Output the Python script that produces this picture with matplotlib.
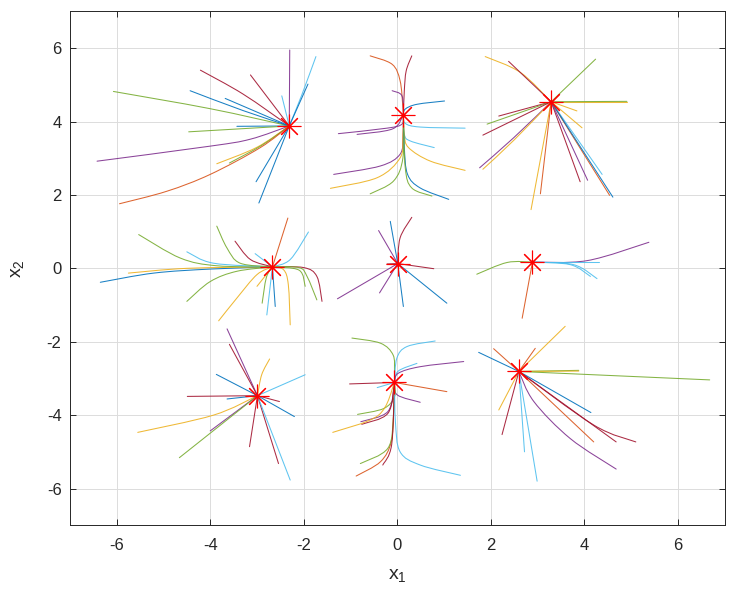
import matplotlib
matplotlib.use("Agg")
import matplotlib.pyplot as plt
from matplotlib.path import Path
from matplotlib.patches import PathPatch

plt.rcParams['font.family'] = ['Liberation Sans', 'DejaVu Sans']
plt.rcParams['mathtext.fontset'] = 'custom'
plt.rcParams['mathtext.rm'] = 'Liberation Sans'
plt.rcParams['mathtext.it'] = 'Liberation Sans'
plt.rcParams['axes.unicode_minus'] = False

# MATLAB default colour order
palette = {"B": "#0072BD", "O": "#D95319", "Y": "#EDB120", "P": "#7E2F8E",
           "G": "#77AC30", "C": "#4DBEEE", "R": "#A2142F"}

# Equilibrium points (red asterisks)
centers = [(-2.31, 3.88), (0.13, 4.18), (3.29, 4.54),
           (-2.67, 0.04), (0.01, 0.13), (2.89, 0.17),
           (-2.99, -3.47), (-0.06, -3.11), (2.60, -2.81)]

# Trajectories per equilibrium: (colour key, points from start toward the equilibrium)
traj1 = [("P", [(-2.30, 5.95)]), ("C", [(-1.74, 5.77), (-2.05, 4.70)]),
         ("B", [(-1.91, 5.02)]), ("C", [(-2.47, 4.70)]),
         ("R", [(-4.21, 5.40), (-3.30, 4.75)]), ("R", [(-3.14, 5.27)]),
         ("G", [(-6.07, 4.82), (-4.00, 4.35)]), ("B", [(-4.43, 4.84), (-3.30, 4.30)]),
         ("B", [(-3.68, 4.63)]), ("B", [(-3.43, 3.87)]), ("G", [(-4.46, 3.72)]),
         ("P", [(-6.42, 2.92), (-4.00, 3.33), (-3.14, 3.52)]),
         ("Y", [(-3.86, 2.85), (-3.00, 3.30)]), ("G", [(-3.59, 2.87), (-2.90, 3.35)]),
         ("O", [(-5.94, 1.76), (-4.93, 2.10), (-4.00, 2.56), (-2.93, 3.29)]),
         ("B", [(-3.02, 2.36)]), ("B", [(-2.96, 1.78)])]
traj2 = [("O", [(-0.58, 5.79), (-0.11, 5.56), (0.06, 5.11), (0.12, 4.38)]),
         ("R", [(0.31, 5.79), (0.19, 5.38), (0.15, 4.84)]),
         ("P", [(-0.11, 4.84), (0.10, 4.70)]),
         ("B", [(1.01, 4.56), (0.42, 4.47), (0.17, 4.34)]),
         ("C", [(1.45, 3.82), (0.49, 3.85), (0.17, 3.95)]),
         ("P", [(-1.26, 3.67), (-0.22, 3.82), (0.10, 3.93)]),
         ("P", [(-0.86, 3.65), (-0.10, 3.80)]),
         ("C", [(0.79, 3.29), (0.28, 3.47), (0.15, 3.65)]),
         ("Y", [(1.45, 2.67), (0.71, 2.92), (0.24, 3.29), (0.15, 3.65)]),
         ("P", [(-1.36, 2.56), (-0.36, 2.79), (0.06, 3.11), (0.12, 3.60)]),
         ("Y", [(-1.43, 2.18), (-0.43, 2.47), (0.06, 3.01), (0.12, 3.60)]),
         ("G", [(-0.58, 2.03), (-0.08, 2.38), (0.12, 3.01)]),
         ("B", [(1.10, 1.88), (0.49, 2.19), (0.22, 2.56), (0.15, 3.29)]),
         ("G", [(0.74, 1.97), (0.31, 2.19), (0.17, 2.74)])]
traj3 = [("Y", [(1.88, 5.77), (2.63, 5.34)]), ("R", [(2.38, 5.64)]),
         ("G", [(4.24, 5.70)]), ("Y", [(4.91, 4.54)]), ("G", [(4.91, 4.55)]),
         ("Y", [(3.84, 4.29)]), ("Y", [(3.95, 3.83)]), ("R", [(2.17, 4.15)]),
         ("G", [(1.92, 3.93)]), ("R", [(1.83, 3.63)]),
         ("P", [(1.76, 2.74), (2.49, 3.56)]), ("Y", [(1.83, 2.70), (2.50, 3.50)]),
         ("Y", [(2.86, 1.60)]), ("O", [(3.06, 2.03)]), ("R", [(3.91, 2.36)]),
         ("P", [(4.07, 2.40)]), ("C", [(4.38, 2.56)]), ("O", [(4.54, 1.99)]),
         ("B", [(4.61, 1.94)])]
traj4 = [("B", [(-6.35, -0.38), (-5.21, -0.13), (-4.00, -0.02)]),
         ("Y", [(-5.75, -0.13), (-4.50, 0.00)]),
         ("G", [(-5.53, 0.92), (-4.64, 0.28), (-3.86, 0.07)]),
         ("C", [(-4.50, 0.45), (-3.93, 0.14)]),
         ("G", [(-3.86, 1.15), (-3.64, 0.55), (-3.36, 0.14)]),
         ("R", [(-3.47, 0.74), (-3.14, 0.24)]), ("C", [(-3.04, 0.40)]),
         ("O", [(-2.34, 1.37)]), ("C", [(-1.90, 0.99), (-2.29, 0.24)]),
         ("R", [(-1.61, -0.90), (-1.72, -0.22), (-2.00, 0.02)]),
         ("G", [(-1.72, -0.86), (-1.93, -0.22), (-2.10, 0.02)]),
         ("G", [(-1.97, -0.49), (-2.10, -0.05)]),
         ("Y", [(-2.29, -1.54), (-2.33, -0.45), (-2.43, -0.04)]),
         ("B", [(-2.61, -1.04)]), ("C", [(-2.79, -1.27)]),
         ("G", [(-2.89, -0.95), (-2.80, -0.25)]),
         ("Y", [(-3.82, -1.43), (-3.43, -0.81), (-3.00, -0.17)]),
         ("G", [(-4.50, -0.90), (-4.00, -0.36), (-3.43, -0.08)]),
         ("Y", [(-3.00, -0.49)])]
traj5 = [("B", [(-0.15, 1.28)]), ("R", [(0.31, 1.39), (0.06, 0.83)]),
         ("P", [(-0.40, 1.03)]), ("R", [(0.78, -0.01)]), ("P", [(-1.28, -0.83)]),
         ("P", [(-0.38, -0.67)]), ("B", [(0.13, -1.04)]), ("B", [(1.06, -0.95)]),
         ("R", [(-0.22, 0.12)])]
traj6 = [("G", [(1.70, -0.16), (2.35, 0.16)]), ("P", [(5.38, 0.71), (4.06, 0.21)]),
         ("C", [(4.27, -0.28), (3.77, 0.10)]), ("C", [(4.13, -0.22), (3.70, 0.10)]),
         ("C", [(4.31, 0.17)]), ("O", [(2.67, -1.36)])]
traj7 = [("P", [(-3.64, -1.65)]), ("R", [(-3.59, -2.07)]),
         ("Y", [(-2.73, -2.47), (-2.90, -2.90)]), ("B", [(-3.87, -2.89)]),
         ("C", [(-1.97, -2.90)]), ("R", [(-4.49, -3.49)]), ("B", [(-3.64, -3.56)]),
         ("R", [(-2.52, -3.63)]), ("B", [(-2.20, -4.04)]),
         ("Y", [(-5.55, -4.47), (-3.93, -4.00)]), ("P", [(-4.00, -4.43)]),
         ("G", [(-4.66, -5.16)]), ("R", [(-3.16, -4.86)]), ("R", [(-2.54, -5.32)]),
         ("C", [(-2.29, -5.77)])]
traj8 = [("G", [(-0.97, -1.90), (-0.36, -2.04), (-0.09, -2.36), (-0.06, -2.81)]),
         ("C", [(0.81, -1.98), (0.21, -2.13), (-0.01, -2.45)]),
         ("C", [(0.42, -2.59), (0.02, -2.80)]),
         ("P", [(1.42, -2.54), (0.49, -2.68), (0.02, -2.86)]),
         ("C", [(-0.43, -3.25)]), ("R", [(-1.02, -3.15)]), ("O", [(1.06, -3.36)]),
         ("P", [(0.49, -3.65), (0.00, -3.45)]),
         ("G", [(-0.85, -3.98), (-0.29, -3.82), (-0.06, -3.50)]),
         ("P", [(-0.78, -4.18), (-0.20, -3.90)]),
         ("R", [(-0.76, -4.25), (-0.20, -3.95)]),
         ("Y", [(-1.38, -4.47), (-0.40, -4.00)]),
         ("O", [(-0.88, -5.66), (-0.36, -5.27), (-0.13, -4.73), (-0.08, -3.91)]),
         ("G", [(-0.79, -5.32), (-0.20, -4.90), (-0.08, -4.00)]),
         ("R", [(-0.31, -5.36), (-0.12, -4.80)]),
         ("C", [(1.35, -5.64), (0.49, -5.36), (0.06, -5.00), (-0.04, -4.18)])]
traj9 = [("B", [(1.74, -2.29)]), ("O", [(2.06, -2.19)]), ("O", [(2.95, -2.18)]),
         ("Y", [(3.59, -1.58)]), ("G", [(3.88, -2.78)]), ("Y", [(3.88, -2.80)]),
         ("G", [(6.68, -3.04)]), ("B", [(4.14, -3.93)]), ("Y", [(2.17, -3.86)]),
         ("R", [(2.24, -4.53)]), ("C", [(2.72, -5.00)]), ("C", [(2.99, -5.80)]),
         ("O", [(4.20, -4.73)]), ("R", [(4.68, -4.73)]),
         ("R", [(5.10, -4.73), (4.20, -4.27)]),
         ("P", [(4.68, -5.47), (3.70, -4.64), (2.92, -3.63)])]

all_traj = [traj1, traj2, traj3, traj4, traj5, traj6, traj7, traj8, traj9]

xticks = [-6, -4, -2, 0, 2, 4, 6]
yticks = [-6, -4, -2, 0, 2, 4, 6]


def smooth_path(pts):
    """Path through the read points, drawn with cubic Bezier segments (Catmull-Rom tangents)."""
    if len(pts) == 2:
        return Path(pts, [Path.MOVETO, Path.LINETO])
    verts = [pts[0]]
    codes = [Path.MOVETO]
    n = len(pts)
    for i in range(n - 1):
        p0 = pts[i - 1] if i > 0 else pts[i]
        p1 = pts[i]
        p2 = pts[i + 1]
        p3 = pts[i + 2] if i + 2 < n else pts[i + 1]
        c1 = (p1[0] + (p2[0] - p0[0]) / 6.0, p1[1] + (p2[1] - p0[1]) / 6.0)
        c2 = (p2[0] - (p3[0] - p1[0]) / 6.0, p2[1] - (p3[1] - p1[1]) / 6.0)
        verts += [c1, c2, p2]
        codes += [Path.CURVE4] * 3
    return Path(verts, codes)


fig = plt.figure(figsize=(7.44, 6.03), dpi=100)
ax = fig.add_axes([0.094, 0.129, 0.880, 0.852])

for center, trajs in zip(centers, all_traj):
    for ckey, pts in trajs:
        full = list(pts) + [center]
        ax.add_patch(PathPatch(smooth_path(full), facecolor='none',
                               edgecolor=palette[ckey], lw=0.75, alpha=0.9,
                               capstyle='round'))

for cx, cy in centers:
    ax.plot([cx], [cy], linestyle='none', marker=(8, 2, 0), markersize=17,
            markeredgecolor='red', markerfacecolor='none', markeredgewidth=0.8)

ax.set_xlim(-7, 7)
ax.set_ylim(-7, 7)
ax.set_xticks(xticks)
ax.set_yticks(yticks)
ax.grid(True, color='#dcdcdc', lw=0.7)
ax.set_axisbelow(True)
for s in ax.spines.values():
    s.set_color('#262626')
    s.set_linewidth(0.7)
ax.tick_params(direction='in', top=True, right=True, length=4, width=0.7,
               colors='#262626', labelsize=12, labelcolor='#262626')
ax.tick_params(axis='x', pad=9)
ax.tick_params(axis='y', pad=6)
ax.set_xlabel('x$_1$', fontsize=14, color='#262626', labelpad=10)
ax.set_ylabel('x$_2$', fontsize=14, color='#262626', labelpad=15)

fig.savefig('out.png', dpi=100)
